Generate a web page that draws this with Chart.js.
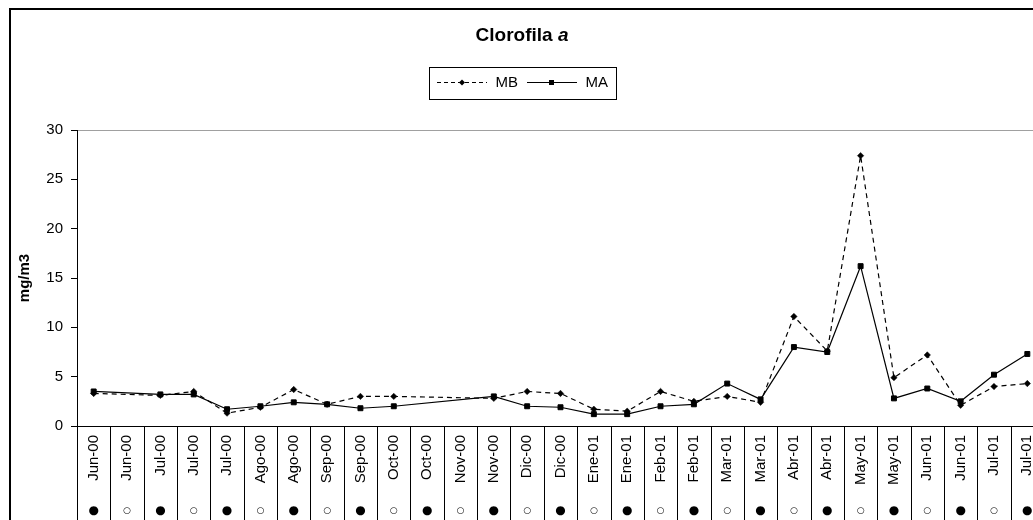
<!DOCTYPE html>
<html>
<head>
<meta charset="utf-8">
<title>Clorofila a</title>
<script src="https://cdn.jsdelivr.net/npm/chart.js@4"></script>
<style>
  body { margin: 0; background: #fff; overflow: hidden; }
  #frame { position: absolute; left: 9px; top: 8px; width: 1100px; height: 600px; border: 2px solid #000; }
  #chart { position: absolute; left: 0; top: 0; }
</style>
</head>
<body>
<div id="frame"></div>
<canvas id="chart" width="1060" height="540"></canvas>
<script>
// Fechas de muestreo (eje X)
const categories = [
    'Jun-00', 'Jun-00', 'Jul-00', 'Jul-00', 'Jul-00', 'Ago-00', 'Ago-00', 'Sep-00', 'Sep-00',
    'Oct-00', 'Oct-00', 'Nov-00', 'Nov-00', 'Dic-00', 'Dic-00', 'Ene-01', 'Ene-01', 'Feb-01',
    'Feb-01', 'Mar-01', 'Mar-01', 'Abr-01', 'Abr-01', 'May-01', 'May-01', 'Jun-01', 'Jun-01',
    'Jul-01', 'Jul-01'
];

// Marea: ● / ○ debajo de cada fecha
const symbols = [
    '●', '○', '●', '○', '●', '○', '●', '○', '●', '○', '●', '○', '●', '○', '●',
    '○', '●', '○', '●', '○', '●', '○', '●', '○', '●', '○', '●', '○', '●'
];

// Clorofila a (mg/m3)
const mbValues = [
    3.3, null, 3.1, 3.5, 1.3, 1.9, 3.7, 2.2, 3.0, 3.0, null, null, 2.8, 3.5, 3.3,
    1.7, 1.5, 3.5, 2.5, 3.0, 2.4, 11.1, 7.6, 27.4, 4.9, 7.2, 2.1, 4.0, 4.3
];
const maValues = [
    3.5, null, 3.2, 3.2, 1.7, 2.0, 2.4, 2.2, 1.8, 2.0, null, null, 3.0, 2.0, 1.9,
    1.2, 1.2, 2.0, 2.2, 4.3, 2.7, 8.0, 7.5, 16.2, 2.8, 3.8, 2.5, 5.2, 7.3
];

const FONT = 'Arial, "Liberation Sans", sans-serif';
Chart.defaults.color = '#000';
Chart.defaults.font.family = FONT;

// Muestras de la leyenda (línea + marcador)
function legendSample(dashed, diamond) {
    const c = document.createElement('canvas');
    c.width = 50;
    c.height = 9;
    const g = c.getContext('2d');
    g.strokeStyle = '#000';
    g.lineWidth = 1;
    g.setLineDash(dashed ? [4, 3] : []);
    g.beginPath();
    g.moveTo(0, 4.5);
    g.lineTo(50, 4.5);
    g.stroke();
    g.fillStyle = '#000';
    g.beginPath();
    if (diamond) {
        g.moveTo(25, 1.5); g.lineTo(28, 4.5); g.lineTo(25, 7.5); g.lineTo(22, 4.5);
    } else {
        g.rect(22, 2, 5, 5);
    }
    g.fill();
    return c;
}
const samples = [legendSample(true, true), legendSample(false, false)];

// Título con la "a" en cursiva
const titlePlugin = {
    id: 'titleMixed',
    afterDraw(chart) {
        const ctx = chart.ctx;
        ctx.save();
        ctx.fillStyle = '#000';
        ctx.textBaseline = 'alphabetic';
        ctx.font = 'bold 19px ' + FONT;
        const w1 = ctx.measureText('Clorofila ').width;
        ctx.font = 'italic bold 19px ' + FONT;
        const w2 = ctx.measureText('a').width;
        const x0 = 522 - (w1 + w2) / 2;
        ctx.font = 'bold 19px ' + FONT;
        ctx.fillText('Clorofila ', x0, 41);
        ctx.font = 'italic bold 19px ' + FONT;
        ctx.fillText('a', x0 + w1, 41);
        ctx.restore();
    }
};

// Recuadro alrededor de la leyenda
const legendBox = {
    id: 'legendBox',
    afterDraw(chart) {
        const boxes = chart.legend.legendHitBoxes;
        if (!boxes.length) return;
        const left = Math.min(...boxes.map(b => b.left)) - 7;
        const right = Math.max(...boxes.map(b => b.left + b.width)) + 8;
        const top = Math.min(...boxes.map(b => b.top)) - 8;
        const bottom = Math.max(...boxes.map(b => b.top + b.height)) + 9;
        const ctx = chart.ctx;
        ctx.save();
        ctx.strokeStyle = '#000';
        ctx.lineWidth = 1;
        ctx.strokeRect(Math.round(left) + 0.5, Math.round(top) + 0.5, Math.round(right - left), Math.round(bottom - top));
        ctx.restore();
    }
};

// Líneas verticales de la tabla de fechas
const dividers = {
    id: 'dividers',
    afterDraw(chart) {
        const x = chart.scales.x;
        const ctx = chart.ctx;
        ctx.save();
        ctx.strokeStyle = '#000';
        ctx.lineWidth = 1;
        ctx.beginPath();
        for (let i = 0; i <= categories.length; i++) {
            const px = Math.round(x.getPixelForValue(i - 0.5)) + 0.5;
            ctx.moveTo(px, chart.chartArea.bottom);
            ctx.lineTo(px, chart.height);
        }
        ctx.stroke();
        ctx.restore();
    }
};

new Chart(document.getElementById('chart'), {
    type: 'line',
    data: {
        labels: categories,
        datasets: [{
            label: 'MB',
            data: mbValues,
            borderColor: '#000',
            borderWidth: 1.2,
            borderDash: [5, 4],
            pointStyle: 'rectRot',
            pointRadius: 3.2,
            pointBackgroundColor: '#000',
            pointBorderColor: '#000',
            pointBorderWidth: 0.5,
            tension: 0,
            spanGaps: true
        }, {
            label: 'MA',
            data: maValues,
            borderColor: '#000',
            borderWidth: 1.2,
            pointStyle: 'rect',
            pointRadius: 3.5,
            pointBackgroundColor: '#000',
            pointBorderColor: '#000',
            pointBorderWidth: 1,
            tension: 0,
            spanGaps: true
        }]
    },
    options: {
        responsive: false,
        animation: false,
        layout: { padding: { top: 67, left: 0, right: 16, bottom: 14 } },
        plugins: {
            legend: {
                position: 'top',
                labels: {
                    usePointStyle: true,
                    pointStyleWidth: 52,
                    padding: 8,
                    font: { size: 15 },
                    color: '#000',
                    generateLabels(chart) {
                        const items = Chart.defaults.plugins.legend.labels.generateLabels(chart);
                        items.forEach((item, i) => { item.pointStyle = samples[i]; });
                        return items;
                    }
                }
            },
            // separación entre la leyenda y el gráfico
            subtitle: {
                display: true,
                text: '',
                weight: 500,
                font: { size: 10, lineHeight: 1 },
                padding: { top: 20, bottom: 0 }
            },
            tooltip: { enabled: false }
        },
        scales: {
            x: {
                type: 'category',
                offset: true,
                weight: 0,
                grid: { display: false, drawTicks: false },
                border: { display: true, color: '#000', width: 1 },
                ticks: {
                    autoSkip: false,
                    minRotation: 90,
                    maxRotation: 90,
                    padding: 9,
                    font: { size: 15 },
                    color: '#000'
                },
                afterFit(scale) { scale.height = 60; }
            },
            x2: {
                type: 'category',
                labels: symbols,
                position: 'bottom',
                offset: true,
                weight: 1,
                grid: { display: false, drawTicks: false },
                border: { display: false },
                ticks: {
                    autoSkip: false,
                    maxRotation: 0,
                    padding: 18,
                    color: '#000',
                    font: (ctx) => ({
                        family: '"DejaVu Sans", sans-serif',
                        size: symbols[ctx.index] === '●' ? 12 : 9,
                        weight: 'bold',
                        lineHeight: '14px'
                    })
                },
                afterFit(scale) { scale.height = 40; }
            },
            y: {
                min: 0,
                max: 30,
                ticks: { stepSize: 5, padding: 8, font: { size: 15 }, color: '#000' },
                grid: {
                    drawOnChartArea: true,
                    color: (ctx) => (ctx.tick && ctx.tick.value === 30 ? '#a0a0a0' : 'rgba(0,0,0,0)'),
                    tickColor: '#000',
                    tickLength: 6
                },
                border: { display: true, color: '#000', width: 1 },
                title: {
                    display: true,
                    text: 'mg/m3',
                    font: { size: 15, weight: 'bold' },
                    padding: { top: 16, bottom: 0 }
                },
                afterFit(scale) { scale.width = 77; }
            }
        }
    },
    plugins: [titlePlugin, legendBox, dividers]
});
</script>
</body>
</html>
